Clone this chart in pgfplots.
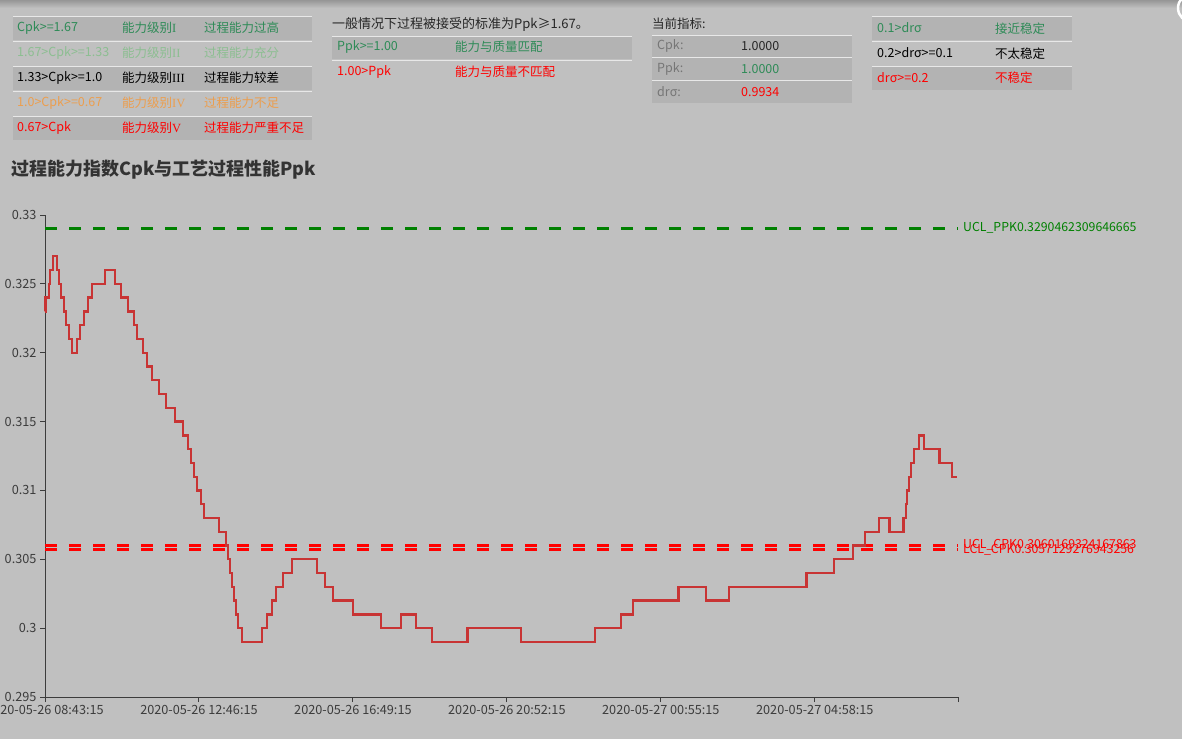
\documentclass[border=0pt]{standalone}
\usepackage{fontspec}
\setmainfont{Noto Sans CJK SC}
\newfontfamily\romanfont{Liberation Serif}
\usepackage{pgfplots}
\pgfplotsset{compat=1.18}
\definecolor{bg}{RGB}{192,192,192}
\definecolor{rowdk}{RGB}{179,179,179}
\definecolor{sepw}{RGB}{232,232,232}
\definecolor{cgreen}{RGB}{46,139,87}
\definecolor{clgreen}{RGB}{140,190,145}
\definecolor{corange}{RGB}{236,158,78}
\definecolor{cred}{RGB}{255,0,0}
\definecolor{ckgreen}{RGB}{0,128,0}
\definecolor{lred}{RGB}{200,52,52}
\definecolor{tgray}{RGB}{60,60,60}
\definecolor{lgray}{RGB}{118,118,118}
\definecolor{ttl}{RGB}{51,51,51}
\newcommand\tf{\fontsize{12.5}{14}\selectfont}
\newcommand\rn[1]{{\romanfont #1}}

\pgfplotstableread{
t v
0 0.323
1 0.324
6 0.325
8 0.326
13 0.327
19 0.326
22 0.325
25 0.324
30 0.323
33 0.322
38 0.321
43 0.320
50 0.321
55 0.322
62 0.323
68 0.324
74 0.325
95 0.326
110 0.325
120 0.324
131 0.323
140 0.322
145 0.321
155 0.320
161 0.319
169 0.318
180 0.317
191 0.316
205 0.315
218 0.314
226 0.313
230 0.312
235 0.311
240 0.310
246 0.309
251 0.308
275 0.307
286 0.306
289 0.305
292 0.304
295 0.303
298 0.302
301 0.301
305 0.300
311 0.299
342 0.300
350 0.301
358 0.302
365 0.303
376 0.304
390 0.305
429 0.304
442 0.303
454 0.302
486 0.301
530 0.300
562 0.301
585 0.300
611 0.299
667 0.300
751 0.299
868 0.300
909 0.301
928 0.302
1000 0.303
1043 0.302
1079 0.303
1202 0.304
1245 0.305
1275 0.306
1294 0.307
1316 0.308
1333 0.307
1355 0.308
1359 0.309
1361 0.310
1364 0.311
1367 0.312
1372 0.313
1379 0.314
1387 0.313
1412 0.312
1431 0.311
1439 0.311
}\cpkdata

\begin{document}
\begin{tikzpicture}
\path[use as bounding box] (0,0) rectangle (1182pt,-739pt);
\clip (0,0) rectangle (1182pt,-739pt);
\fill[bg] (0,0) rectangle (1182pt,-739pt);
\begin{scope}[x=1pt,y=-1pt]
  \shade[top color={rgb,255:red,150;green,150;blue,150}, bottom color=bg] (0,0) rectangle (1182,8);
  \draw[white, line width=2.5pt] (1192,8) circle (14);
  % ---- table 1
  \fill[rowdk] (13,16) rectangle (312,40);
  \fill[rowdk] (13,66) rectangle (312,90);
  \fill[rowdk] (13,116) rectangle (312,140);
  \foreach \yy in {16,41,66,91,116} \draw[sepw, line width=1pt] (13,\yy) -- (312,\yy);
  \begin{scope}[every node/.style={anchor=west, inner sep=0pt, font=\tf}]
    \node[text=cgreen] at (17,28) {Cpk>=1.67};
    \node[text=cgreen] at (122,28) {能力级别\rn{I}};
    \node[text=cgreen] at (204,28) {过程能力过高};
    \node[text=clgreen] at (17,53) {1.67>Cpk>=1.33};
    \node[text=clgreen] at (122,53) {能力级别\rn{II}};
    \node[text=clgreen] at (204,53) {过程能力充分};
    \node[text=black] at (17,78) {1.33>Cpk>=1.0};
    \node[text=black] at (122,78) {能力级别\rn{III}};
    \node[text=black] at (204,78) {过程能力较差};
    \node[text=corange] at (17,103) {1.0>Cpk>=0.67};
    \node[text=corange] at (122,103) {能力级别\rn{IV}};
    \node[text=corange] at (204,103) {过程能力不足};
    \node[text=cred] at (17,128) {0.67>Cpk};
    \node[text=cred] at (122,128) {能力级别\rn{V}};
    \node[text=cred] at (204,128) {过程能力严重不足};
    % ---- table 2
    \node[text=black!85, font=\fontsize{13}{15}\selectfont] at (332,25) {一般情况下过程被接受的标准为Ppk≥1.67。};
  \end{scope}
  \fill[rowdk] (332,36) rectangle (632,59);
  \foreach \yy in {36,60} \draw[sepw, line width=1pt] (332,\yy) -- (632,\yy);
  % ---- table 3
  \fill[rowdk] (652,35) rectangle (852,57);
  \fill[rowdk] (652,58) rectangle (852,80);
  \fill[rowdk] (652,81) rectangle (852,103);
  \foreach \yy in {35,57.5,80.5} \draw[sepw, line width=1pt] (652,\yy) -- (852,\yy);
  % ---- table 4
  \fill[rowdk] (872,16) rectangle (1072,40);
  \fill[rowdk] (872,66) rectangle (1072,90);
  \foreach \yy in {16,41,66} \draw[sepw, line width=1pt] (872,\yy) -- (1072,\yy);
  \begin{scope}[every node/.style={anchor=west, inner sep=0pt, font=\tf}]
    \node[text=cgreen] at (337,47) {Ppk>=1.00};
    \node[text=cgreen] at (455,47) {能力与质量匹配};
    \node[text=cred] at (337,72) {1.00>Ppk};
    \node[text=cred] at (455,72) {能力与质量不匹配};
    \node[text=black!85] at (652,24) {当前指标:};
    \node[text=lgray] at (657,46) {Cpk:};
    \node[text=black!85] at (741,46) {1.0000};
    \node[text=lgray] at (657,69) {Ppk:};
    \node[text=cgreen] at (741,69) {1.0000};
    \node[text=lgray] at (657,92) {drσ:};
    \node[text=cred] at (741,92) {0.9934};
    \node[text=cgreen] at (877,28) {0.1>drσ};
    \node[text=cgreen] at (995,29) {接近稳定};
    \node[text=black] at (877,53) {0.2>drσ>=0.1};
    \node[text=black] at (995,54) {不太稳定};
    \node[text=cred] at (877,78) {drσ>=0.2};
    \node[text=cred] at (995,78) {不稳定};
    \node[text=ttl, font=\fontsize{18}{21}\selectfont\bfseries] at (11,170) {过程能力指数Cpk与工艺过程性能Ppk};
  \end{scope}
\end{scope}
\begin{axis}[
  at={(45pt,-697pt)}, anchor=south west,
  scale only axis, width=913pt, height=482pt,
  xmin=0, xmax=1441, ymin=0.295, ymax=0.33,
  axis lines=left,
  axis line style={-, draw=tgray, line width=1pt},
  xtick={0,243,486,729,972,1215,1441},
  xticklabels={2020-05-26 08:43:15,2020-05-26 12:46:15,2020-05-26 16:49:15,2020-05-26 20:52:15,2020-05-27 00:55:15,2020-05-27 04:58:15,{}},
  ytick={0.295,0.3,0.305,0.31,0.315,0.32,0.325,0.33},
  yticklabels={0.295,0.3,0.305,0.31,0.315,0.32,0.325,0.33},
  tick align=outside, major tick length=5pt,
  tick style={draw=tgray, line width=1pt},
  ticklabel style={font=\fontsize{12.7}{14}\selectfont, text=tgray},
  clip=false,
]
\addplot[ckgreen, line width=3pt, dash pattern=on 12pt off 12pt] coordinates {(0,0.3290462309646665) (1441,0.3290462309646665)};
\addplot[cred, line width=3pt, dash pattern=on 12pt off 12pt] coordinates {(0,0.3060169324167863) (1441,0.3060169324167863)};
\addplot[cred, line width=3pt, dash pattern=on 12pt off 12pt] coordinates {(0,0.3057129276943256) (1441,0.3057129276943256)};
\addplot[const plot, lred, line width=2.3pt] table[x=t, y=v] {\cpkdata};
\node[anchor=west, inner sep=0pt, xshift=5pt, text=ckgreen, font=\fontsize{12.3}{14}\selectfont] at (axis cs:1441,0.3290462309646665) {UCL\_PPK0.3290462309646665};
\node[anchor=west, inner sep=0pt, xshift=5pt, yshift=1pt, text=cred, font=\fontsize{12.3}{14}\selectfont] at (axis cs:1441,0.3060169324167863) {UCL\_CPK0.3060169324167863};
\node[anchor=west, inner sep=0pt, xshift=5pt, text=cred, font=\fontsize{12.3}{14}\selectfont] at (axis cs:1441,0.3057129276943256) {LCL\_CPK0.3057129276943256};
\end{axis}
\end{tikzpicture}
\end{document}
